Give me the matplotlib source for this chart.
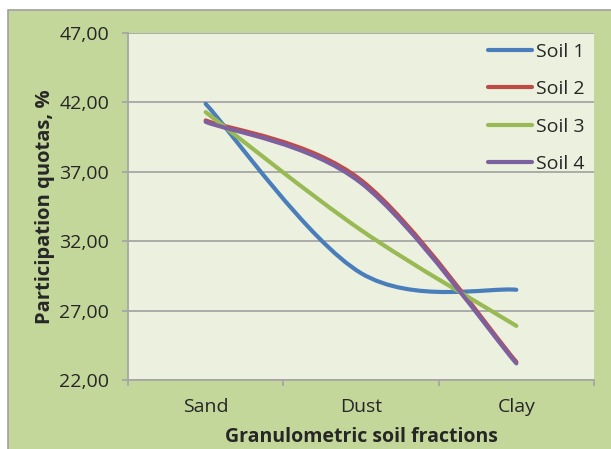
import numpy as np
import matplotlib.pyplot as plt
from matplotlib.path import Path
from matplotlib.patches import PathPatch, Rectangle
from matplotlib.lines import Line2D

plt.rcParams['font.family'] = ['Open Sans', 'DejaVu Sans']

# data
categories = ['Sand', 'Dust', 'Clay']
soil1 = [41.9, 29.7, 28.5]
soil2 = [40.7, 36.4, 23.3]
soil3 = [41.3, 32.8, 25.9]
soil4 = [40.6, 36.2, 23.2]
series_names = ['Soil 1', 'Soil 2', 'Soil 3', 'Soil 4']
series_colors = ['#4A7EBB', '#BE4B48', '#98B954', '#7D60A0']
yticks = [22, 27, 32, 37, 42, 47]

BG_OUT = '#C4D79B'
BG_IN = '#EBF1DE'
GRID = '#A6A6A6'
TXT = '#262626'


def smooth_path(xs, ys):
    # Excel-like smoothed line: cubic Bezier segments (Catmull-Rom control points)
    pts = np.column_stack([xs, ys]).astype(float)
    n = len(pts)
    verts = [pts[0]]
    codes = [Path.MOVETO]
    for i in range(n - 1):
        p0 = pts[max(i - 1, 0)]
        p1 = pts[i]
        p2 = pts[i + 1]
        p3 = pts[min(i + 2, n - 1)]
        c1 = p1 + (p2 - p0) / 6.0
        c2 = p2 - (p3 - p1) / 6.0
        verts += [c1, c2, p2]
        codes += [Path.CURVE4] * 3
    return Path(verts, codes)


fig = plt.figure(figsize=(6.11, 4.49), dpi=100, facecolor='white')
# outer chart frame
fig.patches.append(Rectangle((8 / 611, -0.05), 1.0, 1.05 - 10 / 449, transform=fig.transFigure,
                             facecolor=BG_OUT, edgecolor='#A0A0A0', lw=1.2, zorder=-5))

ax = fig.add_axes([128 / 611, 1 - 380 / 449, 466 / 611, 347 / 449])
ax.set_facecolor(BG_IN)

x = np.arange(len(categories))
all_series = [soil1, soil2, soil3, soil4]
for vals, col in zip(all_series, series_colors):
    pp = PathPatch(smooth_path(x, vals), facecolor='none', edgecolor=col, lw=3.0,
                   capstyle='round', joinstyle='round', zorder=3)
    ax.add_patch(pp)

ax.set_xlim(-0.5, 2.5)
ax.set_ylim(22, 47)
ax.set_yticks(yticks)
ax.set_yticklabels([f'{v:.2f}'.replace('.', ',') for v in yticks])
ax.set_xticks(x)
ax.set_xticklabels(categories)
ax.set_xticks([-0.5, 0.5, 1.5, 2.5], minor=True)

ax.grid(axis='y', color=GRID, lw=1.3)
ax.set_axisbelow(True)
for s in ['top', 'right']:
    ax.spines[s].set_visible(False)
for s in ['left', 'bottom']:
    ax.spines[s].set_color(GRID)
    ax.spines[s].set_linewidth(1.3)

ax.tick_params(axis='y', length=4.5, width=1.3, color=GRID, pad=9, labelsize=14, labelcolor=TXT)
ax.tick_params(axis='x', which='major', length=0, pad=13, labelsize=14, labelcolor=TXT)
ax.tick_params(axis='x', which='minor', length=4.5, width=1.3, color=GRID)

fig.text(45 / 611, 1 - 207 / 449, 'Participation quotas, %', rotation=90, ha='center', va='center',
         fontsize=14.5, fontweight='bold', color=TXT)
fig.text(361 / 611, 1 - 437 / 449, 'Granulometric soil fractions', ha='center', va='center',
         fontsize=14, fontweight='bold', color=TXT)

handles = [Line2D([0], [0], color=c, lw=3.0, solid_capstyle='round') for c in series_colors]
ax.legend(handles, series_names, loc='upper left', bbox_to_anchor=(0.772, 0.972),
          frameon=False, fontsize=14, handlelength=2.3, handletextpad=0.2,
          labelspacing=1.0, borderpad=0, borderaxespad=0, labelcolor=TXT)

fig.savefig('out.png', dpi=100, facecolor='white')
